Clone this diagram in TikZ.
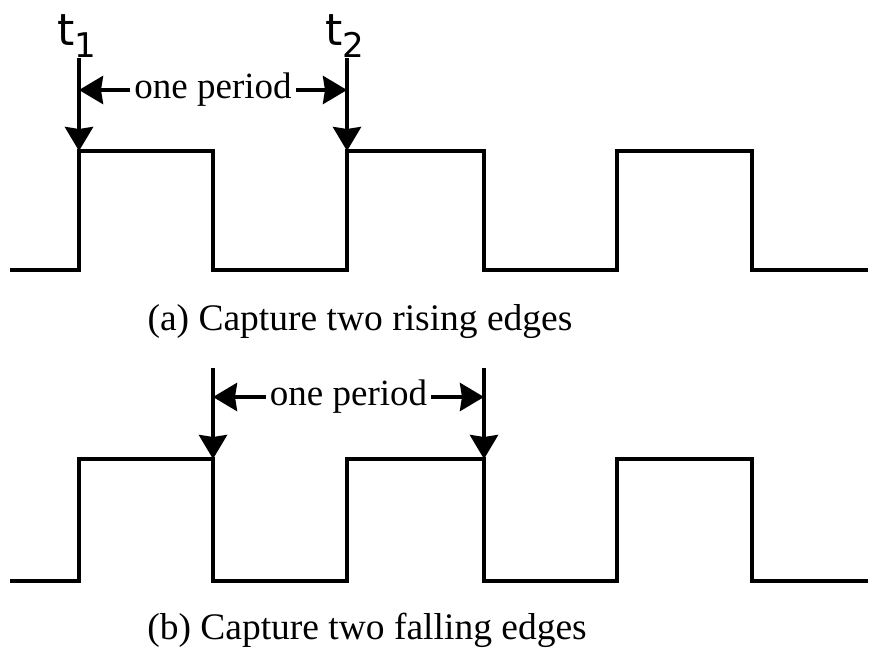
\documentclass[tikz,border=0pt]{standalone}
\usepackage{fontspec}
\setmainfont{Liberation Serif}
\newfontfamily\tfont{DejaVu Sans}
\usetikzlibrary{arrows.meta,positioning,calc}

\begin{document}
\begin{tikzpicture}[x=1pt, y=-1pt,
  wave/.style={line width=4pt, line join=miter},
  marker/.style={line width=4pt, -{Stealth[length=24pt, width=28pt, inset=2pt]}},
  plabel/.style={font=\fontsize{37}{40}\selectfont, inner sep=4pt},
  caption/.style={font=\fontsize{37.5}{40}\selectfont},
  tlabel/.style={font=\tfont\fontsize{44}{48}\selectfont, inner sep=0pt, anchor=base}
]
\useasboundingbox (0,0) rectangle (880,656);

% the two square waves, low/high levels
\foreach \lo/\hi in {270/151, 581/459}
  \draw[wave] (10,\lo) -- (79,\lo) -- (79,\hi) -- (213,\hi) -- (213,\lo)
    -- (347,\lo) -- (347,\hi) -- (484,\hi) -- (484,\lo) -- (617,\lo)
    -- (617,\hi) -- (752,\hi) -- (752,\lo) -- (868,\lo);

% rising edges
\coordinate (ra) at (79,58);
\coordinate (rb) at (347,58);
\coordinate (rea) at (79,151);
\coordinate (reb) at (347,151);
\draw[marker] (ra) -- (rea);
\draw[marker] (rb) -- (reb);
\node[tlabel] (t1) at (77,45) {t\raisebox{-12pt}{\fontsize{34}{36}\selectfont 1}};
\node[tlabel] (t2) at (345,45) {t\raisebox{-12pt}{\fontsize{34}{36}\selectfont 2}};
\node[plabel] (pera) at (213,90) {one period};
\draw[marker] (pera.west) -- (ra |- pera);
\draw[marker] (pera.east) -- (rb |- pera);
\node[caption] (capa) at (360,322) {(a) Capture two rising edges};

% falling edges
\coordinate (fa) at (213,368);
\coordinate (fb) at (484,368);
\coordinate (fea) at (213,459);
\coordinate (feb) at (484,459);
\draw[marker] (fa) -- (fea);
\draw[marker] (fb) -- (feb);
\node[plabel] (perb) at (348.5,397) {one period};
\draw[marker] (perb.west) -- (fa |- perb);
\draw[marker] (perb.east) -- (fb |- perb);
\node[caption] (capb) at (367,630) {(b) Capture two falling edges};
\end{tikzpicture}
\end{document}
